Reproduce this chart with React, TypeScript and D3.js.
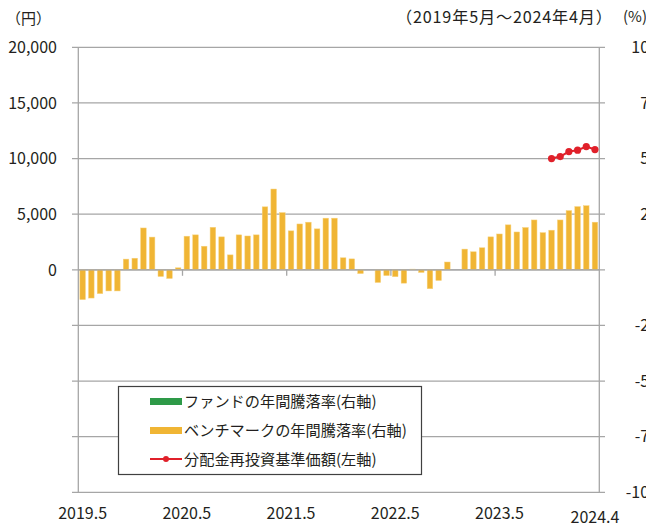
import React from "react";
import * as d3 from "d3";

// months 2019.5 - 2024.4
const months: string[] = [];
for (let i = 0; i < 60; i++) {
  const m = 4 + i;
  months.push(`${2019 + Math.floor(m / 12)}.${(m % 12) + 1}`);
}

// benchmark annual change (%) right axis
const benchmark = [
  -13.4, -12.7, -10.7, -9.5, -9.5, 4.8, 5.2, 18.8, 14.7, -3.0, -3.9, 0.9,
  15.1, 15.7, 10.6, 19.1, 14.8, 6.7, 15.7, 15.2, 15.7, 28.3, 36.3, 25.7,
  17.5, 20.6, 21.4, 18.4, 23.2, 23.2, 5.4, 4.9, -1.7, 0, -5.7, -2.6,
  -3.1, -6.0, 0.3, -1.2, -8.5, -4.8, 3.5, 0, 9.3, 8.1, 9.9, 14.8,
  16.1, 20.2, 17.0, 19.0, 22.4, 16.7, 17.8, 22.4, 26.6, 28.4, 28.8, 21.4,
];

// fund annual change (%) - not available yet
const fund: (number | null)[] = months.map(() => null);

// reinvested NAV (yen) left axis, from 2023.11
const navMonths = ["2023.11", "2023.12", "2024.1", "2024.2", "2024.3", "2024.4"];
const navValues = [10000, 10180, 10630, 10750, 11080, 10810];

const leftTicks = [20000, 15000, 10000, 5000, 0];
const leftGrid = [20000, 15000, 10000, 5000, 0, -5000, -10000, -15000, -20000];
const rightTicks = [100, 75, 50, 25, -25, -50, -75, -100];
const xLabels = ["2019.5", "2020.5", "2021.5", "2022.5", "2023.5"];
const lastLabel = "2024.4";

const W = 646;
const H = 525;
const font = "'Noto Sans CJK JP', 'Noto Sans', sans-serif";
const gridColor = "#a6a6a6";
const barColor = "#f0b534";
const fundColor = "#2e9a48";
const navColor = "#e0202a";

export default function App() {
  const x = d3.scaleBand<string>().domain(months).range([78.3, 599.3]).paddingInner(0.36).paddingOuter(0.18);
  const yL = d3.scaleLinear().domain([-20000, 20000]).range([492.3, 47.3]);
  const yR = d3.scaleLinear().domain([-100, 100]).range([492.3, 47.3]);
  const x0 = 78.3;
  const x1 = 599.3;
  const cx = (m: string) => (x(m) as number) + x.bandwidth() / 2;
  const line = d3
    .line<number>()
    .x((_, i) => cx(navMonths[i]))
    .y((d) => yL(d));
  const yearTicks = [12, 24, 36, 48].map((i) => x0 + (x1 - x0) * (i / 60));

  return (
    <svg
      width={W}
      height={H}
      style={{ position: "absolute", left: 0, top: 0, background: "#fff" }}
      fontFamily={font}
    >
      {/* gridlines */}
      {leftGrid.map((v) => (
        <line key={v} x1={72} x2={605} y1={yL(v)} y2={yL(v)} stroke={gridColor} strokeWidth={1.3} />
      ))}
      <line x1={x0} x2={x0} y1={47.3} y2={492.3} stroke={gridColor} strokeWidth={1.3} />
      <line x1={x1} x2={x1} y1={47.3} y2={492.3} stroke={gridColor} strokeWidth={1.3} />

      {/* benchmark bars */}
      {benchmark.map((v, i) => (
        <rect
          key={i}
          x={x(months[i])}
          width={x.bandwidth()}
          y={Math.min(yR(v), yR(0))}
          height={Math.abs(yR(v) - yR(0))}
          fill={barColor}
          stroke="#f7d27c"
          strokeWidth={0.5}
        />
      ))}
      {fund.map((v, i) =>
        v == null ? null : (
          <rect key={"f" + i} x={x(months[i])} width={x.bandwidth()} y={Math.min(yR(v), yR(0))}
            height={Math.abs(yR(v) - yR(0))} fill={fundColor} />
        )
      )}

      {/* zero axis with year ticks */}
      <line x1={x0} x2={x1} y1={yR(0)} y2={yR(0)} stroke={gridColor} strokeWidth={1.3} />
      {yearTicks.map((t) => (
        <line key={t} x1={t} x2={t} y1={yR(0)} y2={yR(0) + 6} stroke={gridColor} strokeWidth={1.3} />
      ))}

      {/* NAV line */}
      <path d={line(navValues) || ""} fill="none" stroke={navColor} strokeWidth={2} />
      {navValues.map((v, i) => (
        <circle key={i} cx={cx(navMonths[i])} cy={yL(v)} r={3.6} fill={navColor} />
      ))}

      {/* left axis labels */}
      {leftTicks.map((v) => (
        <text key={v} x={57} y={yL(v)} dy="0.36em" textAnchor="end" fontSize={16} fill="#231f20">
          {d3.format(",")(v)}
        </text>
      ))}
      {/* right axis labels */}
      {rightTicks.map((v) => (
        <text key={v} x={658} y={yR(v)} dy="0.36em" textAnchor="end" fontSize={16} fill="#231f20">
          {v}
        </text>
      ))}

      {/* x labels */}
      {xLabels.map((l, i) => (
        <text key={l} x={cx(months[i * 12])} y={513} dy="0.36em" textAnchor="middle" fontSize={16} fill="#231f20">
          {l}
        </text>
      ))}
      <text x={cx(months[59])} y={517} dy="0.36em" textAnchor="middle" fontSize={16} fill="#231f20">
        {lastLabel}
      </text>

      {/* headers */}
      <text x={6} y={19} dy="0.36em" fontSize={15} fill="#231f20">（円）</text>
      <text x={396} y={17} dy="0.36em" fontSize={16.2} fill="#231f20" textLength={216} lengthAdjust="spacing">
        （2019年5月～2024年4月）
      </text>
      <text x={623} y={17} dy="0.36em" fontSize={15} fill="#231f20">(%)</text>

      {/* legend */}
      <rect x={118.5} y={386.5} width={303} height={88} fill="#fff" stroke="#404040" strokeWidth={1.2} />
      <rect x={150} y={398} width={32} height={7} fill={fundColor} />
      <text x={184} y={401.5} dy="0.36em" fontSize={15.2} fill="#231f20">ファンドの年間騰落率(右軸)</text>
      <rect x={150} y={427} width={32} height={7} fill={barColor} />
      <text x={184} y={430.5} dy="0.36em" fontSize={15.2} fill="#231f20">ベンチマークの年間騰落率(右軸)</text>
      <line x1={150} x2={182} y1={459} y2={459} stroke={navColor} strokeWidth={2} />
      <circle cx={166} cy={459} r={3} fill={navColor} />
      <text x={184} y={459.5} dy="0.36em" fontSize={15.2} fill="#231f20">分配金再投資基準価額(左軸)</text>
    </svg>
  );
}
